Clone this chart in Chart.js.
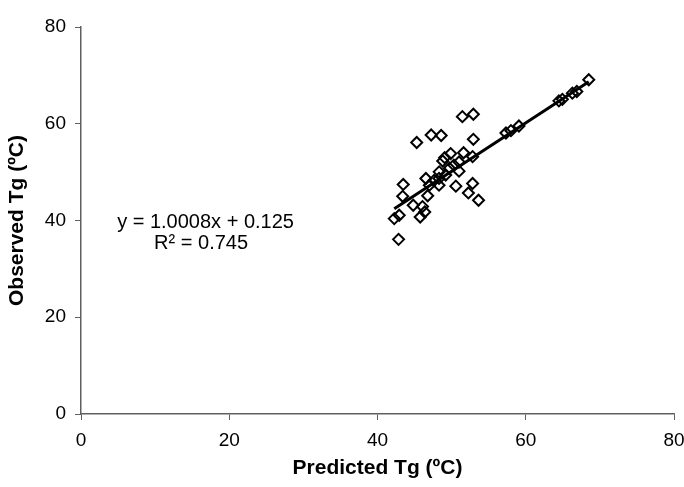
<!DOCTYPE html>
<html>
<head>
<meta charset="utf-8">
<script src="https://cdn.jsdelivr.net/npm/chart.js@4/dist/chart.umd.min.js"></script>
<style>
  html, body { margin: 0; padding: 0; background: #fff; }
  #wrap { width: 684px; height: 487px; }
</style>
</head>
<body>
<div id="wrap"><canvas id="tgChart"></canvas></div>
<script>
// values
var predictedTg = [51.45, 52.93, 45.29, 47.24, 48.59, 52.93, 51.61, 52.83, 49.87, 49.06,
                   51.0, 48.32, 51.0, 46.53, 43.47, 43.4, 50.57, 52.83, 52.26, 53.63,
                   46.77, 44.82, 46.07, 46.37, 45.76, 42.26, 42.93, 42.84, 57.33, 58.0,
                   59.08, 64.47, 64.94, 66.29, 66.89, 68.5, 47.64, 48.3, 49.2, 49.7,
                   50.3, 48.8, 48.3, 47.0];
var observedTg = [61.47, 61.97, 56.12, 57.68, 57.57, 56.78, 54.0, 53.2, 53.84, 53.0,
                  52.1, 50.06, 50.2, 48.69, 47.45, 45.0, 47.1, 47.66, 45.7, 44.19,
                  45.12, 43.15, 42.88, 41.76, 40.73, 40.39, 41.08, 36.1, 58.09, 58.57,
                  59.54, 64.73, 65.04, 66.33, 66.66, 69.1, 48.3, 48.7, 49.4, 50.8,
                  51.45, 52.3, 47.3, 47.3];
var xTicks = [0, 20, 40, 60, 80];
var yTicks = [0, 20, 40, 60, 80];
var fitSlope = 1.0008;
var fitIntercept = 0.125;
var fitLabels = ["y = 1.0008x + 0.125", "R\u00B2 = 0.745"];
// where the two label lines sit, in data units
var labelX = [16.8, 16.2];
var labelY = [39.5, 35.3];

var fontName = "'Liberation Sans', Arial, sans-serif";
var axisColor = "#606060";

var points = [];
for (var i = 0; i < predictedTg.length; i++) {
    points.push({ x: predictedTg[i], y: observedTg[i] });
}
var xMin = Math.min.apply(null, predictedTg);
var xMax = Math.max.apply(null, predictedTg);
var fitLine = [
    { x: xMin, y: fitSlope * xMin + fitIntercept },
    { x: xMax, y: fitSlope * xMax + fitIntercept }
];

// writes the regression equation on the chart
var equationText = {
    id: "equationText",
    afterDraw: function (chart) {
        var ctx = chart.ctx;
        ctx.save();
        ctx.fillStyle = "#000";
        ctx.font = "20px " + fontName;
        ctx.textAlign = "center";
        ctx.textBaseline = "middle";
        for (var k = 0; k < fitLabels.length; k++) {
            var px = chart.scales.x.getPixelForValue(labelX[k]);
            var py = chart.scales.y.getPixelForValue(labelY[k]);
            ctx.fillText(fitLabels[k], px, py);
        }
        ctx.restore();
    }
};

var ctx = document.getElementById("tgChart").getContext("2d");
var chart = new Chart(ctx, {
    type: "scatter",
    data: {
        datasets: [{
            label: "trend",
            type: "line",
            data: fitLine,
            borderColor: "#000",
            borderWidth: 3,
            pointRadius: 0,
            fill: false,
            order: 0
        }, {
            label: "Tg",
            data: points,
            pointStyle: "rectRot",
            pointRadius: 5.5,
            pointBorderWidth: 2,
            pointBorderColor: "#000",
            pointBackgroundColor: "rgba(255,255,255,0)",
            order: 1
        }]
    },
    plugins: [equationText],
    options: {
        responsive: true,
        maintainAspectRatio: false,
        animation: false,
        layout: { padding: { top: 27, right: 10, left: 0, bottom: 0 } },
        plugins: { legend: { display: false }, tooltip: { enabled: false } },
        scales: {
            x: {
                type: "linear",
                min: 0, max: 80,
                afterBuildTicks: function (s) { s.ticks = xTicks.map(function (v) { return { value: v }; }); },
                afterFit: function (s) { s.height = 73; s.paddingLeft = 0; s.paddingRight = 0; },
                grid: { drawOnChartArea: false, color: axisColor, tickLength: 6 },
                border: { color: axisColor, width: 1.5 },
                ticks: { color: "#000", font: { family: fontName, size: 19 }, padding: 9, maxRotation: 0 },
                title: { display: true, text: "Predicted Tg (\u00BAC)", color: "#000",
                         font: { family: fontName, size: 21, weight: "bold" }, padding: { top: 4, bottom: 6 } }
            },
            y: {
                type: "linear",
                min: 0, max: 80,
                afterBuildTicks: function (s) { s.ticks = yTicks.map(function (v) { return { value: v }; }); },
                afterFit: function (s) { s.width = 81; s.paddingTop = 0; s.paddingBottom = 0; },
                grid: { drawOnChartArea: false, color: axisColor, tickLength: 6 },
                border: { color: axisColor, width: 1.5 },
                ticks: { color: "#000", font: { family: fontName, size: 19 }, padding: 9 },
                title: { display: true, text: "Observed Tg (\u00BAC)", color: "#000",
                         font: { family: fontName, size: 21, weight: "bold" }, padding: { top: 5, bottom: 4 } }
            }
        }
    }
});
</script>
</body>
</html>
